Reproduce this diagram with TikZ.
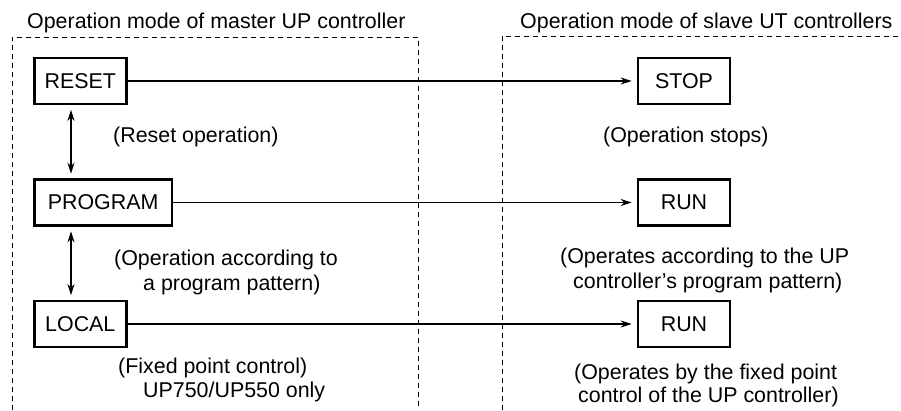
\documentclass[tikz,border=0pt]{standalone}
\usepackage{fontspec}
\setmainfont{Liberation Sans}
\usetikzlibrary{arrows.meta}
\begin{document}
\begin{tikzpicture}[x=1pt,y=-1pt,
  modebox/.style={draw,line width=2.6pt,minimum width=92pt,minimum height=46pt,inner xsep=10pt,inner ysep=0pt},
  widebox/.style={modebox,inner xsep=13.5pt},
  lbl/.style={anchor=base west,inner sep=0pt},
  flow/.style={line width=1.2pt,-{Stealth[length=11pt,width=7pt]},shorten >=5pt},
  both/.style={line width=1.2pt,{Stealth[length=11pt,width=7pt]}-{Stealth[length=11pt,width=7pt]},shorten >=4.5pt,shorten <=4.5pt},
  frame/.style={line width=1pt,dash pattern=on 5pt off 4pt}]
\useasboundingbox (0,0) rectangle (901,410);
\fontsize{21.4}{25}\selectfont
% frames
\draw[frame] (12,410) -- (12,37) -- (418,37) -- (418,410);
\draw[frame] (502,410) -- (502,36) -- (901,36);
% titles
\node[lbl] (t1) at (27,28) {Operation mode of master UP controller};
\node[lbl] (t2) at (520,28) {Operation mode of slave UT controllers};
% boxes
\node[modebox,anchor=west] (reset) at (33,81) {RESET};
\node[modebox] (stop) at (684,81) {STOP};
\node[widebox,anchor=west] (program) at (33,202.5) {PROGRAM};
\node[modebox] (run1) at (684,202.5) {RUN};
\node[modebox,anchor=west] (local) at (33,324) {LOCAL};
\node[modebox] (run2) at (684,324) {RUN};
% connectors
\draw[flow] (reset.east) -- (stop.west);
\draw[flow] (program.east) -- (run1.west);
\draw[flow] (local.east) -- (run2.west);
\draw[both] ([xshift=38pt]reset.south west) -- ([xshift=38pt]program.north west);
\draw[both] ([xshift=38pt]program.south west) -- ([xshift=38pt]local.north west);
% labels
\node[lbl] (l1) at (113,142) {(Reset operation)};
\node[lbl] (r1) at (603,142) {(Operation stops)};
\node[lbl] (l2a) at (114,265) {(Operation according to};
\node[lbl] (l2b) at (143,290) {a program pattern)};
\node[lbl] (r2a) at (560,263) {(Operates according to the UP};
\node[lbl] (r2b) at (573,288) {controller’s program pattern)};
\node[lbl] (l3a) at (118,373) {(Fixed point control)};
\node[lbl] (l3b) at (143,397) {UP750/UP550 only};
\node[lbl] (r3a) at (574,379) {(Operates by the fixed point};
\node[lbl] (r3b) at (578,402) {control of the UP controller)};
\end{tikzpicture}
\end{document}
